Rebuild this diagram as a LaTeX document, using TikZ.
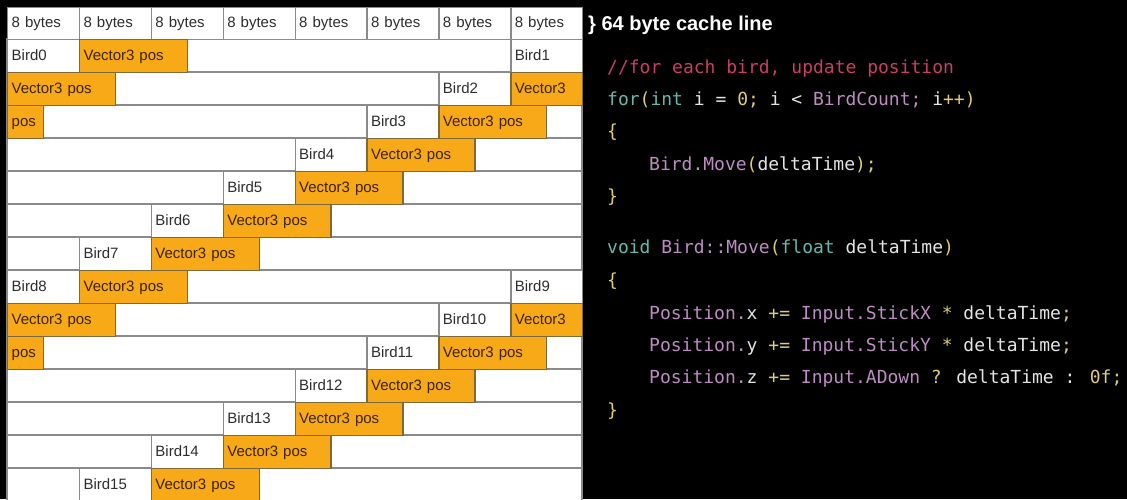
\documentclass[tikz,border=0pt]{standalone}
\usepackage{fontspec}
\setmainfont{Liberation Sans}
\newfontfamily\codefont{DejaVu Sans Mono}
\definecolor{cellgrey}{RGB}{138,138,138}
\definecolor{vecorange}{RGB}{247,169,24}
\definecolor{vecedge}{RGB}{125,105,60}
\definecolor{vectext}{RGB}{60,35,5}
\definecolor{birdtext}{RGB}{45,45,45}
\definecolor{codekw}{RGB}{100,185,175}
\definecolor{codepu}{RGB}{190,140,195}
\definecolor{codeye}{RGB}{222,205,115}
\definecolor{codewh}{RGB}{228,228,228}
\definecolor{codecm}{RGB}{200,62,100}
\newcommand{\ckw}[1]{\textcolor{codekw}{#1}}
\newcommand{\cpu}[1]{\textcolor{codepu}{#1}}
\newcommand{\cye}[1]{\textcolor{codeye}{#1}}
\newcommand{\cwh}[1]{\textcolor{codewh}{#1}}
\newcommand{\ccm}[1]{\textcolor{codecm}{#1}}
\def\cw{71.875}
\tikzset{
    bytecell/.style={draw=cellgrey, fill=white, line width=1.4pt, anchor=north west, inner xsep=4pt, text width=63.875pt, align=left, text height=11pt, text depth=3pt, minimum height=32pt, font=\fontsize{15}{18}\selectfont, text=birdtext},
    birdcell/.style={bytecell, minimum height=33pt},
    veccell/.style={draw=vecedge, fill=vecorange, line width=1.4pt, anchor=north west, inner xsep=4pt, align=left, text height=11pt, text depth=3pt, minimum height=33pt, font=\fontsize{15}{18}\selectfont, text=vectext},
    rowframe/.style={draw=cellgrey, fill=white, line width=1.4pt},
    codeline/.style={anchor=base west, inner sep=0pt, font=\codefont\fontsize{18}{22}\selectfont, text=codewh}
}
\begin{document}
\begin{tikzpicture}[x=1pt, y=-1pt]
\fill[black] (0,0) rectangle (1127,499);
\useasboundingbox (0,0) rectangle (1127,499);
% memory rows
\foreach \r in {0,...,13}
    \draw[rowframe] (7,39+33*\r) rectangle (582,72+33*\r);
\foreach \k in {0,...,7}
    \node[bytecell] (byte\k) at (7+\cw*\k,7) {8 bytes};
% birds: number/column/row
\foreach \n/\c/\r in {0/0/0, 1/7/0, 2/6/1, 3/5/2, 4/4/3, 5/3/4, 6/2/5, 7/1/6,
                      8/0/7, 9/7/7, 10/6/8, 11/5/9, 12/4/10, 13/3/11, 14/2/12, 15/1/13}
    \node[birdcell] (bird\n) at (7+\cw*\c,39+33*\r) {Bird\n};
% positions: name/column/row/width/text
\foreach \nm/\c/\r/\w/\t in {vec0/1/0/1.5/Vector3 pos, vec1/0/1/1.5/Vector3 pos,
        vec2a/7/1/1/Vector3, vec2b/0/2/0.5/pos, vec3/6/2/1.5/Vector3 pos,
        vec4/5/3/1.5/Vector3 pos, vec5/4/4/1.5/Vector3 pos, vec6/3/5/1.5/Vector3 pos,
        vec7/2/6/1.5/Vector3 pos, vec8/1/7/1.5/Vector3 pos, vec9/0/8/1.5/Vector3 pos,
        vec10a/7/8/1/Vector3, vec10b/0/9/0.5/pos, vec11/6/9/1.5/Vector3 pos,
        vec12/5/10/1.5/Vector3 pos, vec13/4/11/1.5/Vector3 pos,
        vec14/3/12/1.5/Vector3 pos, vec15/2/13/1.5/Vector3 pos}{
    \pgfmathsetmacro\tw{\w*\cw-8}
    \node[veccell, text width=\tw pt] (\nm) at (7+\cw*\c,39+33*\r) {\t};
}
\node[anchor=base west, inner sep=0pt, text=white, font=\bfseries\fontsize{20}{24}\selectfont] (cacheline) at (588,30) {\} 64 byte cache line};
% code
\node[codeline] (code1) at (607,73.5) {\ccm{//for each bird, update position}};
\node[codeline] (code2) at (607,105.5) {\ckw{for}\cye{(}\ckw{int} i = \cye{0;} i < \cpu{BirdCount;} i\cye{++)}};
\node[codeline] (code3) at (607,137.5) {\cye{\{}};
\node[codeline] (code4) at (649,170.5) {\cpu{Bird.Move}\cye{(}deltaTime\cye{);}};
\node[codeline] (code5) at (607,202.5) {\cye{\}}};
\node[codeline] (code6) at (607,253.5) {\ckw{void} \cpu{Bird::Move}\cye{(}\ckw{float} deltaTime\cye{)}};
\node[codeline] (code7) at (607,286.5) {\cye{\{}};
\node[codeline] (code8) at (649,319.5) {\cpu{Position.}x \cye{+=} \cpu{Input.StickX} \cye{*} deltaTime\cye{;}};
\node[codeline] (code9) at (649,351.5) {\cpu{Position.}y \cye{+=} \cpu{Input.StickY} \cye{*} deltaTime\cye{;}};
\node[codeline] (code10) at (649,383.5) {\cpu{Position.}z \cye{+=} \cpu{Input.ADown} \cye{?} deltaTime : \cye{0f;}};
\node[codeline] (code11) at (607,416.5) {\cye{\}}};
\end{tikzpicture}
\end{document}
